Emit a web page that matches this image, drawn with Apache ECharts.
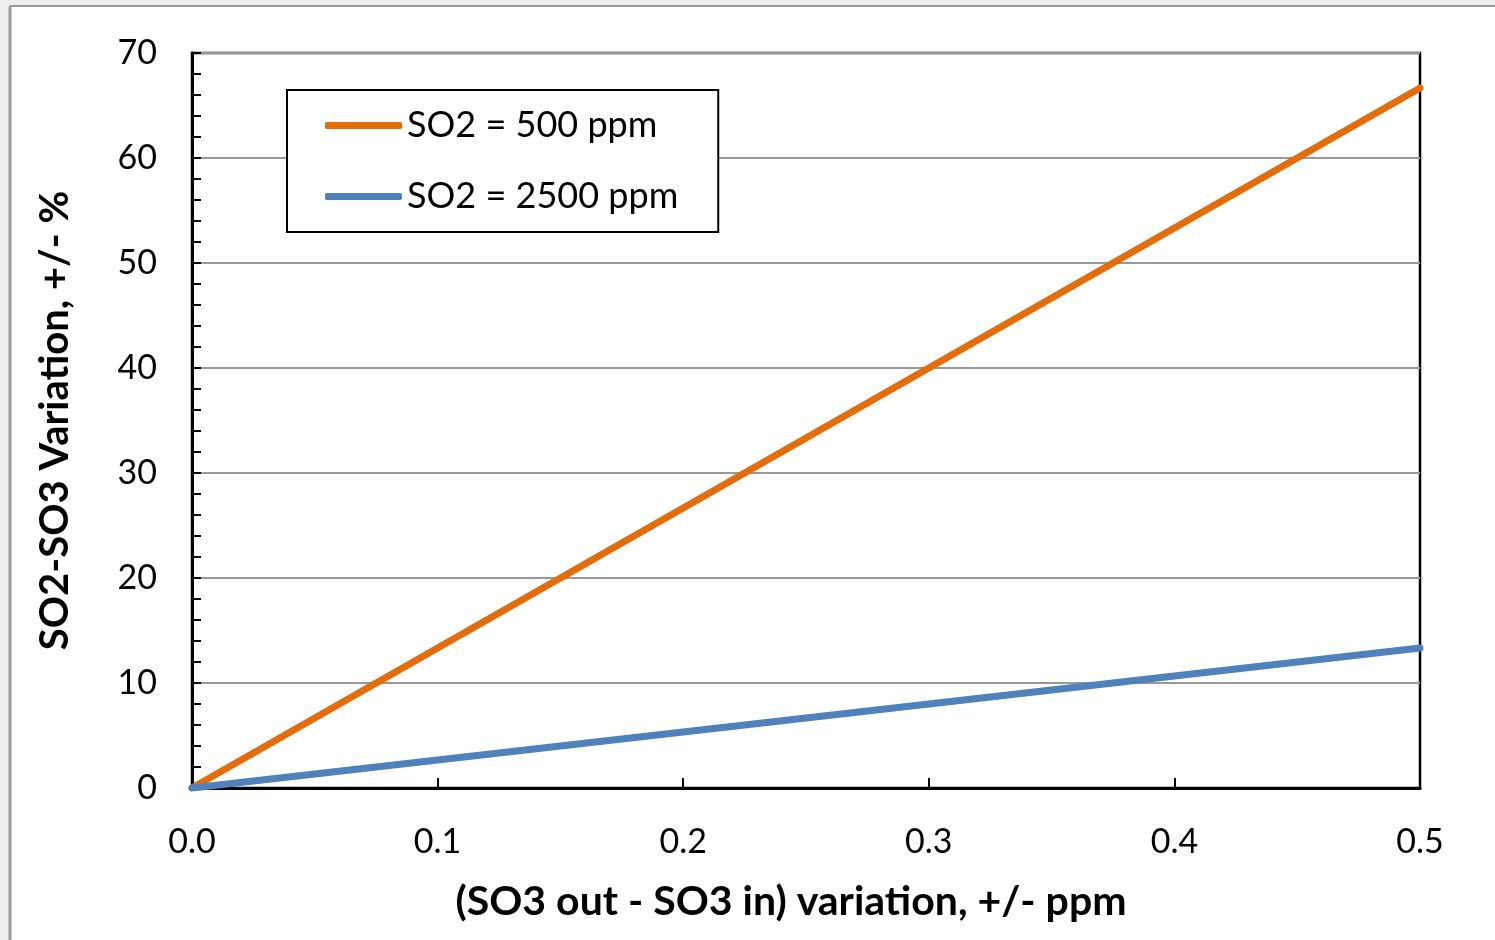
<!DOCTYPE html>
<html>
<head>
<meta charset="utf-8">
<script src="https://cdn.jsdelivr.net/npm/echarts@6/dist/echarts.min.js"></script>
<style>
html,body{margin:0;padding:0;background:#fff;}
#chart{width:1495px;height:940px;}
</style>
</head>
<body>
<div id="chart"></div>
<script>
var xValues = [0, 0.1, 0.2, 0.3, 0.4, 0.5];
var so2_500 = [0, 13.33, 26.67, 40.0, 53.33, 66.67];
var so2_2500 = [0, 2.67, 5.33, 8.0, 10.67, 13.33];
var seriesNames = ['SO2 = 500 ppm', 'SO2 = 2500 ppm'];
var xTitle = '(SO3 out - SO3 in) variation, +/- ppm';
var yTitle = 'SO2-SO3 Variation, +/- %';

function pairs(xs, ys){ return xs.map(function(x,i){ return [x, ys[i]]; }); }

var chart = echarts.init(document.getElementById('chart'));
var font = 'Lato, "Open Sans", sans-serif';
chart.setOption({
  backgroundColor: '#ffffff',
  animation: false,
  textStyle: { fontFamily: font },
  graphic: [
    { type: 'rect', shape: { x: 0, y: 0, width: 1495, height: 6 }, style: { fill: '#efefef' }, silent: true },
    { type: 'rect', shape: { x: 0, y: 0, width: 9, height: 940 }, style: { fill: '#efefef' }, silent: true },
    { type: 'line', shape: { x1: 10, y1: 6, x2: 1495, y2: 6 }, style: { stroke: '#9a9a9a', lineWidth: 2 }, silent: true },
    { type: 'line', shape: { x1: 10, y1: 6, x2: 10, y2: 940 }, style: { stroke: '#9a9a9a', lineWidth: 3 }, silent: true }
  ],
  grid: {
    left: 192, right: 75, top: 53, bottom: 152,
    show: true, borderColor: '#000', borderWidth: 2.5, backgroundColor: 'transparent'
  },
  legend: {
    orient: 'vertical',
    left: 287, top: 90,
    padding: [15, 40, 15, 38],
    itemGap: 30,
    itemWidth: 77, itemHeight: 7,
    icon: 'roundRect',
    backgroundColor: '#fff',
    borderColor: '#000', borderWidth: 2,
    textStyle: { fontFamily: font, fontSize: 36, color: '#000', lineHeight: 41 },
    data: seriesNames
  },
  xAxis: {
    type: 'value',
    min: 0, max: 0.5, interval: 0.1,
    name: xTitle,
    nameLocation: 'middle', nameGap: 93,
    nameTextStyle: { fontFamily: font, fontSize: 41, fontWeight: 'bold', color: '#000', padding: [0, 30, 0, 0] },
    axisLine: { show: true, lineStyle: { color: '#000', width: 3 } },
    axisTick: { show: true, inside: true, length: 10, lineStyle: { color: '#000', width: 2 } },
    axisLabel: { fontFamily: font, fontSize: 34, color: '#000', margin: 37,
      formatter: function(v){ return v.toFixed(1); } },
    splitLine: { show: false }
  },
  yAxis: {
    type: 'value',
    min: 0, max: 70, interval: 10,
    name: yTitle,
    nameLocation: 'middle', nameGap: 117,
    nameTextStyle: { fontFamily: font, fontSize: 40, fontWeight: 'bold', color: '#000' },
    axisLine: { show: true, lineStyle: { color: '#000', width: 3 } },
    axisTick: { show: true, inside: true, length: 9, lineStyle: { color: '#000', width: 2 } },
    minorTick: { show: true, splitNumber: 5, length: 9, lineStyle: { color: '#000', width: 2 } },
    axisLabel: { fontFamily: font, fontSize: 34, color: '#000', margin: 35 },
    splitLine: { show: true, lineStyle: { color: '#999', width: 2 } }
  },
  series: [
    { name: seriesNames[0], type: 'line', data: pairs(xValues, so2_500), showSymbol: false, symbol: 'none',
      lineStyle: { color: '#E46C0A', width: 7, cap: 'round' }, itemStyle: { color: '#E46C0A' } },
    { name: seriesNames[1], type: 'line', data: pairs(xValues, so2_2500), showSymbol: false, symbol: 'none',
      lineStyle: { color: '#4F81BD', width: 7, cap: 'round' }, itemStyle: { color: '#4F81BD' } }
  ]
});
</script>
</body>
</html>
